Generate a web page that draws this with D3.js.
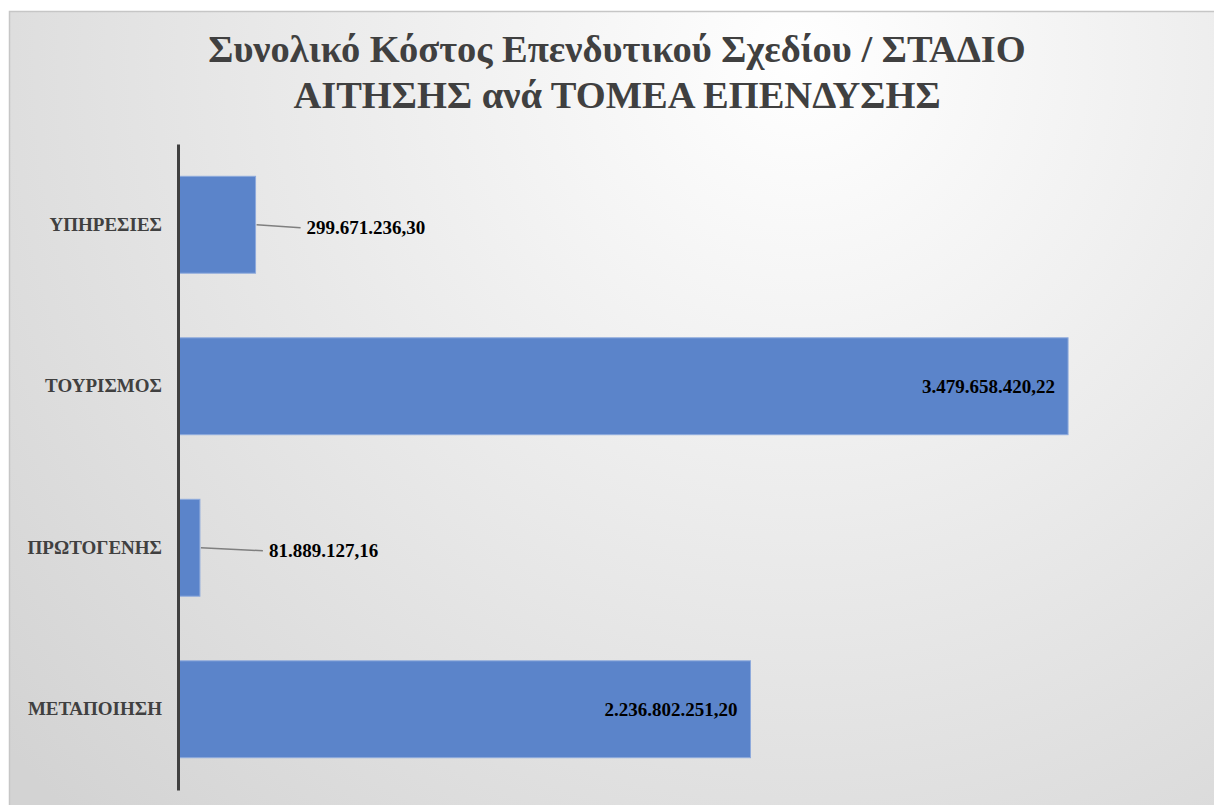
<!DOCTYPE html>
<html>
<head>
<meta charset="utf-8">
<script src="https://cdn.jsdelivr.net/npm/d3@7"></script>
<style>
  body { margin: 0; background: #fff; }
  text { font-family: "Liberation Serif", "Times New Roman", serif; font-weight: bold; }
</style>
</head>
<body>
<div class="chart"></div>
<script>
// DATA ------------------------------------
const categories = ["ΥΠΗΡΕΣΙΕΣ", "ΤΟΥΡΙΣΜΟΣ", "ΠΡΩΤΟΓΕΝΗΣ", "ΜΕΤΑΠΟΙΗΣΗ"]
const values = [299671236.30, 3479658420.22, 81889127.16, 2236802251.20]
const valueLabels = ["299.671.236,30", "3.479.658.420,22", "81.889.127,16", "2.236.802.251,20"]
const titleLines = ["Συνολικό Κόστος Επενδυτικού Σχεδίου / ΣΤΑΔΙΟ", "ΑΙΤΗΣΗΣ ανά ΤΟΜΕΑ ΕΠΕΝΔΥΣΗΣ"]
const xMax = 4000000000

const data = categories.map((c, i) => ({cat: c, value: values[i], label: valueLabels[i]}))

// SIZE ------------------------------------
const W = 1214, H = 805
const plot = {left: 179, right: 1201, top: 144, bottom: 790}

const svg = d3.select(".chart")
	.append("svg")
	.attr("width", W)
	.attr("height", H)

// background gradient
const defs = svg.append("defs")
const grad = defs.append("radialGradient")
	.attr("id", "bg")
	.attr("gradientUnits", "userSpaceOnUse")
	.attr("cx", 800).attr("cy", 60).attr("r", 1050)
grad.append("stop").attr("offset", "0%").attr("stop-color", "#ffffff")
grad.append("stop").attr("offset", "100%").attr("stop-color", "#d3d3d3")

svg.append("rect")
	.attr("x", 9.5).attr("y", 11.5)
	.attr("width", W + 20).attr("height", H + 20)
	.attr("fill", "url(#bg)")
	.attr("stroke", "#c6c6c6")
	.attr("stroke-width", 1.5)

// title
svg.append("text")
	.attr("x", 617)
	.attr("y", 62)
	.attr("text-anchor", "middle")
	.attr("fill", "#404040")
	.style("font-size", "38.5px")
	.selectAll("tspan")
	.data(titleLines)
	.join("tspan")
	.attr("x", 617)
	.attr("dy", (d, i) => i ? 46 : 0)
	.text(d => d)

// scales
let xScale = d3.scaleLinear()
	.domain([0, xMax])
	.range([plot.left, plot.right])
let yScale = d3.scaleBand()
	.domain(categories)
	.range([plot.top, plot.bottom])
	.paddingInner(0.4)
	.paddingOuter(0.2)

// bars
svg.selectAll(".bar")
	.data(data)
	.join("rect")
	.attr("class", "bar")
	.attr("x", xScale(0))
	.attr("y", d => yScale(d.cat))
	.attr("width", d => xScale(d.value) - xScale(0))
	.attr("height", yScale.bandwidth())
	.attr("fill", "#5b84ca")
	.attr("stroke", "#8eaadc")
	.attr("stroke-width", 1)

// y axis (labels only + line)
let yAxis = d3.axisLeft(yScale).tickSize(0).tickPadding(16)
let yAxisG = svg.append("g")
	.attr("class", "axis y-axis")
	.attr("transform", `translate(${plot.left - 1},0)`)
	.call(yAxis)
yAxisG.select(".domain")
	.attr("stroke", "#404040")
	.attr("stroke-width", 3)
yAxisG.selectAll(".tick text")
	.attr("fill", "#404040")
	.attr("dy", "0.32em")
	.style("font-family", '"Liberation Serif", "Times New Roman", serif')
	.style("font-size", "19px")
	.style("font-weight", "bold")

// data labels: inside end for long bars, leader line + outside for short ones
const outsideGap = {"ΥΠΗΡΕΣΙΕΣ": 45, "ΠΡΩΤΟΓΕΝΗΣ": 63}
const cy = d => yScale(d.cat) + yScale.bandwidth() / 2

data.forEach(d => {
	const end = xScale(d.value)
	if (outsideGap[d.cat]) {
		const g = outsideGap[d.cat]
		svg.append("line")
			.attr("x1", end + 1).attr("y1", cy(d))
			.attr("x2", end + g).attr("y2", cy(d) + 3)
			.attr("stroke", "#7f7f7f")
			.attr("stroke-width", 1.5)
		svg.append("text")
			.attr("x", end + g + 6)
			.attr("y", cy(d) + 3)
			.attr("dy", "0.35em")
			.attr("fill", "#000")
			.style("font-size", "19px")
			.text(d.label)
	} else {
		svg.append("text")
			.attr("x", end - 13)
			.attr("y", cy(d))
			.attr("dy", "0.37em")
			.attr("text-anchor", "end")
			.attr("fill", "#000")
			.style("font-size", "19px")
			.text(d.label)
	}
})
</script>
</body>
</html>
